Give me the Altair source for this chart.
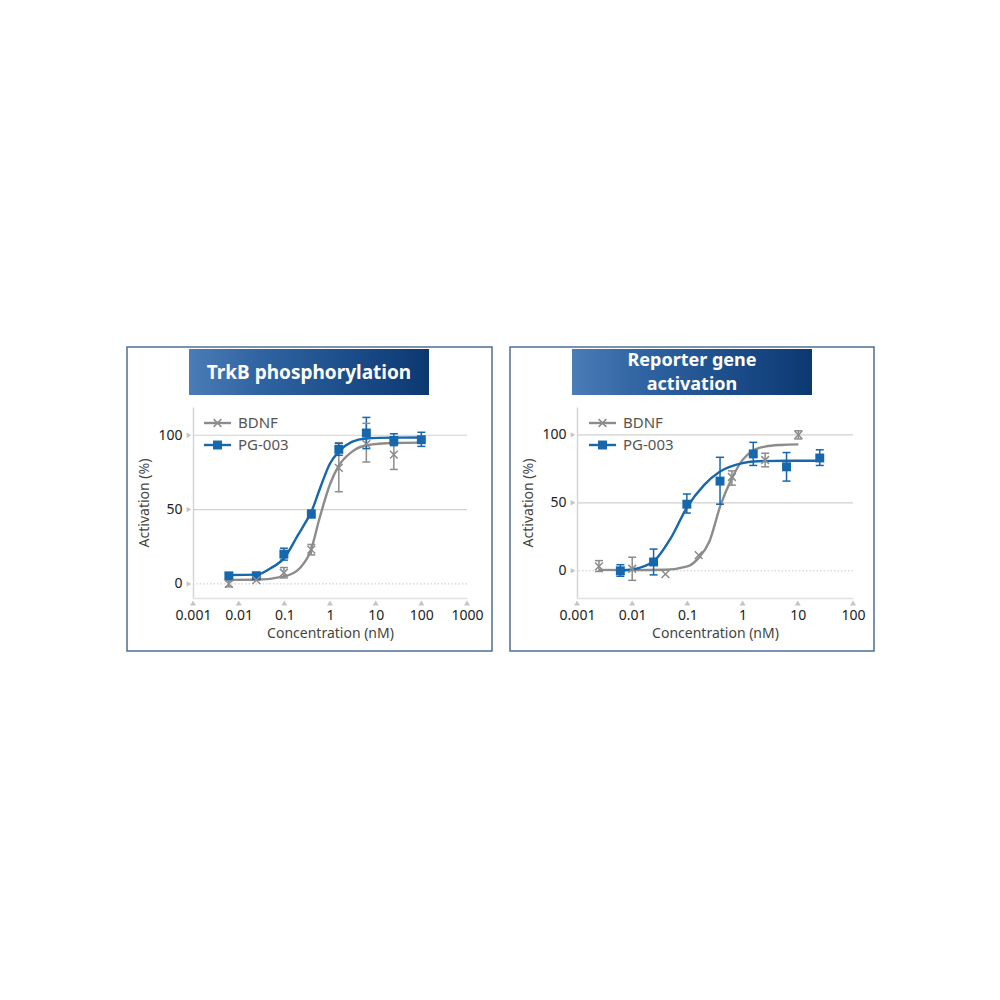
import altair as alt
import pandas as pd

SERIES = ["BDNF", "PG-003"]
COLORS = ["#8c8c8c", "#1767ad"]
FONT = "Noto Sans"

# ---------------- Panel 1: TrkB phosphorylation ----------------
p1_title = ["TrkB phosphorylation"]
p1_xticks = [0.001, 0.01, 0.1, 1, 10, 100, 1000]
p1_yticks = [0, 50, 100]

p1_pg_conc = [0.0061, 0.0244, 0.0977, 0.39, 1.56, 6.25, 25, 100]
p1_pg_val = [5.4, 5.5, 20, 47, 90.5, 101.5, 96.5, 97]
p1_pg_lo = [3.5, None, 16, 44.5, 86.5, 91, 93, 92.5]
p1_pg_hi = [7, None, 24, 49.5, 94.5, 112, 101, 102]

p1_bd_conc = [0.0061, 0.0244, 0.0977, 0.39, 1.56, 6.25, 25]
p1_bd_val = [0, 2.5, 7.5, 23, 78, 94, 87]
p1_bd_lo = [-2, None, 4, 19.5, 62, 82, 77]
p1_bd_hi = [2, None, 11, 26.5, 95, 108, 94]

p1_pg_curve_x = [0.0061, 0.0244, 0.05, 0.1, 0.2, 0.3, 0.39, 0.6, 1, 1.56, 3, 6.25, 25, 100]
p1_pg_curve_y = [6, 6.2, 10.5, 17.5, 33, 42, 48.5, 64, 81, 89, 95.5, 97.8, 98.4, 98.5]
p1_bd_curve_x = [0.0061, 0.0244, 0.1, 0.22, 0.38, 0.6, 1, 1.56, 3, 6.25, 25, 100]
p1_bd_curve_y = [2.7, 2.8, 5, 10.7, 22.5, 45, 67, 79.5, 88.8, 93.3, 94.8, 95]

# ---------------- Panel 2: Reporter gene activation ----------------
p2_title = ["Reporter gene", "activation"]
p2_xticks = [0.001, 0.01, 0.1, 1, 10, 100]
p2_yticks = [0, 50, 100]

p2_pg_conc = [0.0061, 0.0244, 0.0977, 0.39, 1.56, 6.25, 25]
p2_pg_val = [0, 6.5, 49, 66, 86, 76.5, 83]
p2_pg_lo = [-4, -3, 42.5, 49, 77.5, 66, 77.5]
p2_pg_hi = [4.5, 16, 56.5, 83.5, 94.5, 87, 89]

p2_bd_conc = [0.0025, 0.01, 0.04, 0.16, 0.64, 2.56, 10.24]
p2_bd_val = [3.2, 1.5, -2.5, 11.5, 69, 81.5, 100]
p2_bd_lo = [-0.5, -7, None, None, 63, 76.5, 97]
p2_bd_hi = [7.5, 10, None, None, 73.5, 86.5, 103]

p2_pg_curve_x = [0.0061, 0.01, 0.0244, 0.05, 0.0977, 0.2, 0.39, 1, 1.56, 6.25, 25]
p2_pg_curve_y = [0.3, 1, 7, 24, 46.5, 63, 73, 79.2, 80.4, 81, 81]
p2_bd_curve_x = [0.0025, 0.01, 0.04, 0.1, 0.16, 0.25, 0.4, 0.64, 1, 1.5, 2.56, 5, 10.24]
p2_bd_curve_y = [0.7, 0.5, 0.8, 3.2, 9.5, 21.6, 48.5, 68, 81.6, 88.2, 91.4, 92.6, 93]


def series_df(xs, ys, name):
    return pd.DataFrame({"conc": xs, "act": ys, "series": name})


def err_df(xs, lo, hi, name):
    d = pd.DataFrame({"conc": xs, "lo": lo, "hi": hi, "series": name})
    return d.dropna()


def panel(W, H, ydom, xdom, xticks, yticks, title_lines, frame, banner, leg_x,
          curves, points, errs):
    xscale = alt.Scale(type="log", domain=xdom, nice=False)
    yscale = alt.Scale(domain=ydom, nice=False, zero=False)
    xaxis = alt.Axis(values=xticks, format="~g", title="Concentration (nM)",
                     ticks=False, grid=False, domainColor="#e2e2e2", domainWidth=1.5,
                     labelPadding=10, labelFontSize=14, labelColor="#222",
                     labelFont=FONT, titleFont=FONT, titleFontSize=14,
                     titleFontWeight="normal", titleColor="#444", titlePadding=4,
                     labelFlush=False, labelOverlap=False)
    yaxis = alt.Axis(values=yticks, title="Activation (%)", ticks=False, grid=False,
                     domainColor="#d6d6d6", domainWidth=1.5, labelPadding=11,
                     labelFontSize=14, labelColor="#222", labelFont=FONT,
                     titleFont=FONT, titleFontSize=14, titleFontWeight="normal",
                     titleColor="#444", titlePadding=6)
    color = alt.Color("series:N", scale=alt.Scale(domain=SERIES, range=COLORS), legend=None)

    def X(f="conc"):
        return alt.X(f, type="quantitative", scale=xscale, axis=xaxis)

    def Y(f):
        return alt.Y(f, type="quantitative", scale=yscale, axis=yaxis)

    one = pd.DataFrame({"k": [0]})

    fx0, fx1, fy0, fy1 = frame
    frame_l = alt.Chart(one).mark_rect(fill="#ffffff", fillOpacity=0, stroke="#4d6f96",
                                       strokeWidth=1.5).encode(
        x=alt.value(fx0), x2=alt.value(fx1), y=alt.value(fy0), y2=alt.value(fy1))

    bx0, bx1, by0, by1 = banner
    grad = alt.LinearGradient(
        gradient="linear", x1=0, x2=1, y1=0, y2=0,
        stops=[alt.GradientStop(color="#4a7cb6", offset=0),
               alt.GradientStop(color="#2f63a1", offset=0.3),
               alt.GradientStop(color="#1a4b88", offset=0.7),
               alt.GradientStop(color="#0c3870", offset=1)])
    banner_l = alt.Chart(one).mark_rect(fill=grad).encode(
        x=alt.value(bx0), x2=alt.value(bx1), y=alt.value(by0), y2=alt.value(by1))
    n = len(title_lines)
    lh = 24
    fs = 19 if n == 1 else 18
    title_layers = []
    for i, line in enumerate(title_lines):
        title_layers.append(alt.Chart(one).mark_text(
            text=line, font=FONT, fontSize=fs, fontWeight="bold", color="#ffffff",
            align="center", baseline="middle").encode(
            x=alt.value((bx0 + bx1) / 2),
            y=alt.value((by0 + by1) / 2 - (n - 1) * lh / 2 + i * lh + 1)))

    grid_df = pd.DataFrame({"g": [v for v in yticks if v != 0]})
    grid_l = alt.Chart(grid_df).mark_rule(color="#d0d0d0", strokeWidth=1.2).encode(y=Y("g"))
    zero_l = alt.Chart(pd.DataFrame({"g": [0]})).mark_rule(
        color="#c8c8c8", strokeWidth=1, strokeDash=[1.5, 2]).encode(y=Y("g"))

    ytri = alt.Chart(pd.DataFrame({"t": yticks})).mark_point(
        shape="triangle-right", filled=True, color="#c4c4c4", size=30, opacity=1).encode(
        y=Y("t"), x=alt.value(-4))
    xtri = alt.Chart(pd.DataFrame({"conc": xticks})).mark_point(
        shape="triangle-up", filled=True, color="#c4c4c4", size=36, opacity=1).encode(
        x=X(), y=alt.value(H + 5))

    curve_l = alt.Chart(curves).mark_line(interpolate="monotone", strokeWidth=2.4).encode(
        x=X(), y=Y("act"), color=color, detail="series:N")

    err_rule = alt.Chart(errs).mark_rule(strokeWidth=1.5).encode(
        x=X(), y=Y("lo"), y2="hi:Q", color=color)
    cap_lo = alt.Chart(errs).mark_tick(orient="horizontal", size=8, thickness=1.5, opacity=1).encode(
        x=X(), y=Y("lo"), color=color)
    cap_hi = alt.Chart(errs).mark_tick(orient="horizontal", size=8, thickness=1.5, opacity=1).encode(
        x=X(), y=Y("hi"), color=color)

    sq = alt.Chart(points[points.series == "PG-003"]).mark_square(
        size=80, opacity=1, filled=True).encode(x=X(), y=Y("act"), color=color)
    xm = alt.Chart(points[points.series == "BDNF"]).mark_point(
        shape="M-1,-1L1,1M-1,1L1,-1", size=60, filled=False, strokeWidth=1.5, opacity=1).encode(
        x=X(), y=Y("act"), color=color)

    legend_layers = []
    for i, (name, col) in enumerate(zip(SERIES, COLORS)):
        ly = 16 + 22 * i
        legend_layers.append(alt.Chart(one).mark_rule(color=col, strokeWidth=2.4).encode(
            x=alt.value(leg_x), x2=alt.value(leg_x + 27), y=alt.value(ly)))
        if name == "PG-003":
            legend_layers.append(alt.Chart(one).mark_square(color=col, size=80, opacity=1).encode(
                x=alt.value(leg_x + 13.5), y=alt.value(ly)))
        else:
            legend_layers.append(alt.Chart(one).mark_point(
                shape="M-1,-1L1,1M-1,1L1,-1", size=60, filled=False, strokeWidth=1.5,
                color=col, opacity=1).encode(x=alt.value(leg_x + 13.5), y=alt.value(ly)))
        legend_layers.append(alt.Chart(one).mark_text(
            text=name, font=FONT, fontSize=15, color="#555", align="left",
            baseline="middle").encode(x=alt.value(leg_x + 34), y=alt.value(ly)))

    return alt.layer(frame_l, banner_l, *title_layers, grid_l, zero_l, ytri, xtri, curve_l,
                     err_rule, cap_lo, cap_hi, sq, xm, *legend_layers).properties(
        width=W, height=H)


c1 = pd.concat([series_df(p1_bd_curve_x, p1_bd_curve_y, "BDNF"),
                series_df(p1_pg_curve_x, p1_pg_curve_y, "PG-003")])
pt1 = pd.concat([series_df(p1_bd_conc, p1_bd_val, "BDNF"),
                 series_df(p1_pg_conc, p1_pg_val, "PG-003")])
e1 = pd.concat([err_df(p1_bd_conc, p1_bd_lo, p1_bd_hi, "BDNF"),
                err_df(p1_pg_conc, p1_pg_lo, p1_pg_hi, "PG-003")])

c2 = pd.concat([series_df(p2_bd_curve_x, p2_bd_curve_y, "BDNF"),
                series_df(p2_pg_curve_x, p2_pg_curve_y, "PG-003")])
pt2 = pd.concat([series_df(p2_bd_conc, p2_bd_val, "BDNF"),
                 series_df(p2_pg_conc, p2_pg_val, "PG-003")])
e2 = pd.concat([err_df(p2_bd_conc, p2_bd_lo, p2_bd_hi, "BDNF"),
                err_df(p2_pg_conc, p2_pg_lo, p2_pg_hi, "PG-003")])

panel1 = panel(274, 191, [-9.5, 119], [0.001, 1000], p1_xticks, p1_yticks, p1_title,
               (-66, 299, -60, 244), (-4, 236, -58, -12), 11, c1, pt1, e1)
panel2 = panel(276, 191, [-20, 120.5], [0.001, 100], p2_xticks, p2_yticks, p2_title,
               (-67, 297, -60, 244), (-5, 235, -58, -12), 12, c2, pt2, e2)

chart = alt.hconcat(panel1, panel2, spacing=16).properties(
    padding={"left": 118, "top": 338, "right": 5, "bottom": 5},
    background="#ffffff",
).configure_view(strokeWidth=0)

chart.save("out.html", embed_options={"renderer": "svg", "actions": False})
